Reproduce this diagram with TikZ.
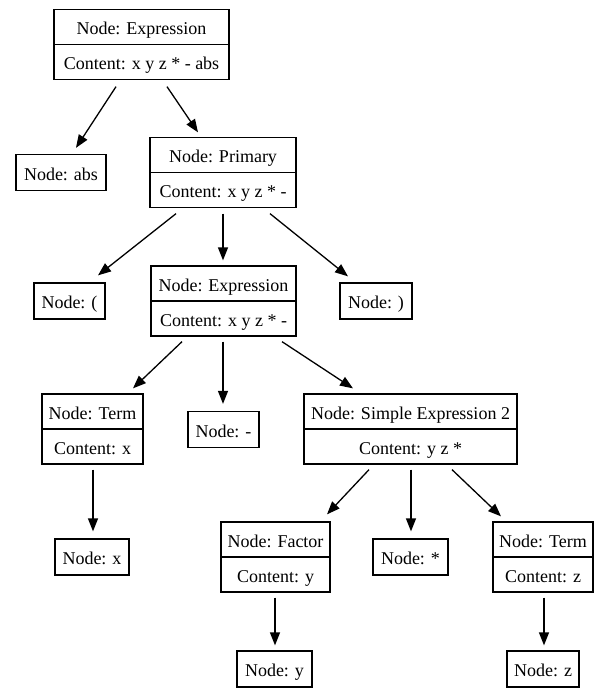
\documentclass[tikz,border=0pt]{standalone}
\usepackage{fontspec}
\setmainfont{Liberation Serif}
\usetikzlibrary{arrows.meta}
\tikzset{
  boxstyle/.style={draw, line width=1.3pt, rectangle, inner sep=0pt},
  recbox/.style={boxstyle, minimum height=70pt},
  leafbox/.style={boxstyle, minimum height=36pt},
  lbl/.style={inner sep=0pt, text height=15pt, text depth=0pt, font=\fontsize{18}{20}\selectfont},
  edge/.style={line width=1.3pt, -{Triangle[length=13pt,width=10pt]}}
}
\begin{document}
\begin{tikzpicture}[x=1pt,y=-1pt]
\useasboundingbox (0,0) rectangle (609,699);
% record nodes
\node[recbox, minimum width=175pt] (top) at (141.5,44.5) {};
\node[recbox, minimum width=146pt] (prim) at (223,172.5) {};
\node[recbox, minimum width=145pt] (expr) at (223.5,301) {};
\node[recbox, minimum width=101pt] (term) at (92.5,429) {};
\node[recbox, minimum width=213pt] (se) at (410.5,429) {};
\node[recbox, minimum width=109pt] (fac) at (275.5,557) {};
\node[recbox, minimum width=100pt] (termz) at (543,557) {};
\foreach \n in {top,prim,expr,term,se,fac,termz}{
  \draw[line width=1.3pt] (\n.west) -- (\n.east);
}
\node[lbl] (topA) at ([yshift=17.5pt]top.center) {Node: Expression};
\node[lbl] (topB) at ([yshift=-17.5pt]top.center) {Content: x y z * - abs};
\node[lbl] (primA) at ([yshift=17.5pt]prim.center) {Node: Primary};
\node[lbl] (primB) at ([yshift=-17.5pt]prim.center) {Content: x y z * -};
\node[lbl] (exprA) at ([yshift=17.5pt]expr.center) {Node: Expression};
\node[lbl] (exprB) at ([yshift=-17.5pt]expr.center) {Content: x y z * -};
\node[lbl] (termA) at ([yshift=17.5pt]term.center) {Node: Term};
\node[lbl] (termB) at ([yshift=-17.5pt]term.center) {Content: x};
\node[lbl] (seA) at ([yshift=17.5pt]se.center) {Node: Simple Expression 2};
\node[lbl] (seB) at ([yshift=-17.5pt]se.center) {Content: y z *};
\node[lbl] (facA) at ([yshift=17.5pt]fac.center) {Node: Factor};
\node[lbl] (facB) at ([yshift=-17.5pt]fac.center) {Content: y};
\node[lbl] (termzA) at ([yshift=17.5pt]termz.center) {Node: Term};
\node[lbl] (termzB) at ([yshift=-17.5pt]termz.center) {Content: z};
% leaf nodes
\node[leafbox, minimum width=90pt] (abs) at (61,172.5) {};
\node[lbl] (absT) at (abs.center) {Node: abs};
\node[leafbox, minimum width=71pt] (lp) at (69.5,301) {};
\node[lbl] (lpT) at (lp.center) {Node: (};
\node[leafbox, minimum width=72pt] (rp) at (376,301) {};
\node[lbl] (rpT) at (rp.center) {Node: )};
\node[leafbox, minimum width=71pt] (minus) at (223.5,429.5) {};
\node[lbl] (minusT) at (minus.center) {Node: -};
\node[leafbox, minimum width=74pt] (nx) at (92,557) {};
\node[lbl] (nxT) at (nx.center) {Node: x};
\node[leafbox, minimum width=75pt] (star) at (410.5,557) {};
\node[lbl] (starT) at (star.center) {Node: *};
\node[leafbox, minimum width=75pt] (ny) at (274.5,669) {};
\node[lbl] (nyT) at (ny.center) {Node: y};
\node[leafbox, minimum width=72pt] (nz) at (543,669) {};
\node[lbl] (nzT) at (nz.center) {Node: z};
% edges
\draw[edge] ([xshift=-25.5pt,yshift=-6.5pt]top.south) -- ([xshift=15pt,yshift=6pt]abs.north);
\draw[edge] ([xshift=25.5pt,yshift=-6.5pt]top.south) -- ([xshift=-25pt,yshift=4.5pt]prim.north);
\draw[edge] ([xshift=-47pt,yshift=-5.5pt]prim.south) -- ([xshift=28.5pt,yshift=7pt]lp.north);
\draw[edge] ([xshift=0pt,yshift=-5.5pt]prim.south) -- ([xshift=-0.5pt,yshift=5pt]expr.north);
\draw[edge] ([xshift=47pt,yshift=-5.5pt]prim.south) -- ([xshift=-28pt,yshift=6pt]rp.north);
\draw[edge] ([xshift=-41.5pt,yshift=-5pt]expr.south) -- ([xshift=40.5pt,yshift=5pt]term.north);
\draw[edge] ([xshift=-0.5pt,yshift=-5pt]expr.south) -- ([xshift=-0.5pt,yshift=7pt]minus.north);
\draw[edge] ([xshift=58.5pt,yshift=-5pt]expr.south) -- ([xshift=-57.5pt,yshift=5pt]se.north);
\draw[edge] ([xshift=0.5pt,yshift=-5pt]term.south) -- ([xshift=1pt,yshift=7pt]nx.north);
\draw[edge] ([xshift=-41.5pt,yshift=-5pt]se.south) -- ([xshift=51.5pt,yshift=7pt]fac.north);
\draw[edge] ([xshift=0.5pt,yshift=-5pt]se.south) -- ([xshift=0.5pt,yshift=7pt]star.north);
\draw[edge] ([xshift=41.5pt,yshift=-5pt]se.south) -- ([xshift=-42pt,yshift=5pt]termz.north);
\draw[edge] ([xshift=-0.5pt,yshift=-5pt]fac.south) -- ([xshift=0.5pt,yshift=5pt]ny.north);
\draw[edge] ([xshift=1pt,yshift=-5pt]termz.south) -- ([xshift=1pt,yshift=5pt]nz.north);
\end{tikzpicture}
\end{document}
